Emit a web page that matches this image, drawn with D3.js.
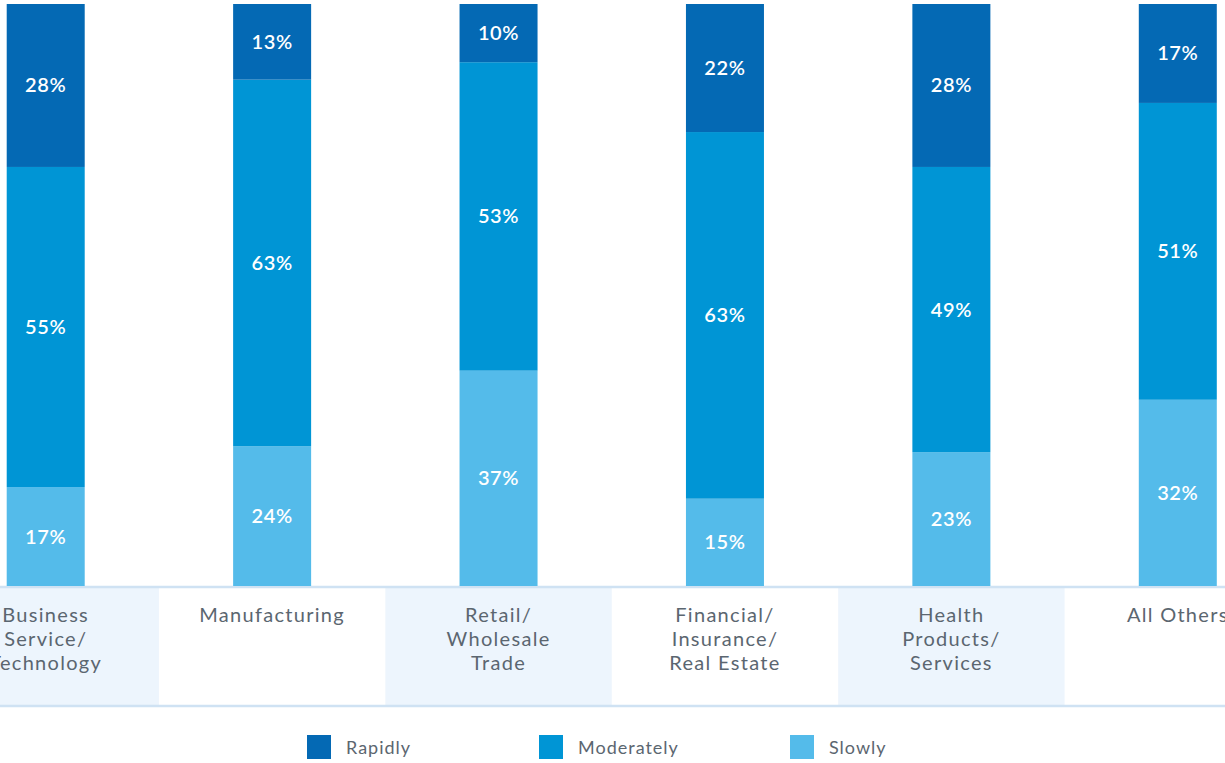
<!DOCTYPE html>
<html>
<head>
<meta charset="utf-8">
<script src="https://cdnjs.cloudflare.com/ajax/libs/d3/7.8.5/d3.min.js"></script>
<style>
  body { margin: 0; background: #fff; }
  svg { display: block; }
</style>
</head>
<body>
<svg id="vis" width="1225" height="763"></svg>
<script>
// data
var categories = ["Business Service/ Technology", "Manufacturing", "Retail/ Wholesale Trade",
    "Financial/ Insurance/ Real Estate", "Health Products/ Services", "All Others"];
var categoryLines = [["Business", "Service/", "Technology"], ["Manufacturing"], ["Retail/", "Wholesale", "Trade"],
    ["Financial/", "Insurance/", "Real Estate"], ["Health", "Products/", "Services"], ["All Others"]];
var seriesNames = ["Slowly", "Moderately", "Rapidly"];
var slowly = [17, 24, 37, 15, 23, 32];
var moderately = [55, 63, 53, 63, 49, 51];
var rapidly = [28, 13, 10, 22, 28, 17];
var legendOrder = ["Rapidly", "Moderately", "Slowly"];

var colors = {Rapidly: "#0469b4", Moderately: "#0095d5", Slowly: "#54bbea"};
var width = 1225, height = 763;
var BASE = 586, TOP = 4, BAR_W = 78;
var FONT = "Lato, 'Open Sans', sans-serif";

var display = d3.select("#vis");

// build rows for stacking
var rows = categories.map(function (c, i) {
    return {cat: c, Slowly: slowly[i], Moderately: moderately[i], Rapidly: rapidly[i]};
});

var xBand = d3.scaleBand()
    .domain(categories)
    .range([-67.5, 1291])
    .padding(0);

var y = d3.scaleLinear()
    .domain([0, 100])
    .range([BASE, TOP]);

// shaded label bands
display.append("g")
    .selectAll("rect")
    .data(categories.filter(function (d, i) { return i % 2 === 0; }))
    .enter()
    .append("rect")
    .attr("x", function (d) { return xBand(d); })
    .attr("y", BASE + 2)
    .attr("width", xBand.bandwidth())
    .attr("height", 117)
    .attr("fill", "#edf5fd");

// rule lines
display.append("line")
    .attr("x1", 0).attr("x2", width)
    .attr("y1", BASE + 1).attr("y2", BASE + 1)
    .attr("stroke", "#cfe2f3").attr("stroke-width", 2.5);
display.append("line")
    .attr("x1", 0).attr("x2", width)
    .attr("y1", 706).attr("y2", 706)
    .attr("stroke", "#cfe2f3").attr("stroke-width", 2.5);

var stacked = d3.stack().keys(seriesNames)(rows);

var barX = function (d) { return xBand(d.data.cat) + (xBand.bandwidth() - BAR_W) / 2; };

var groups = display.selectAll("g.series")
    .data(stacked)
    .enter()
    .append("g")
    .attr("class", "series")
    .attr("fill", function (d) { return colors[d.key]; });

groups.selectAll("rect")
    .data(function (d) { return d; })
    .enter()
    .append("rect")
    .attr("x", barX)
    .attr("y", function (d) { return y(d[1]); })
    .attr("width", BAR_W)
    .attr("height", function (d) { return y(d[0]) - y(d[1]); });

// value labels
groups.selectAll("text")
    .data(function (d) { return d; })
    .enter()
    .append("text")
    .attr("x", function (d) { return xBand(d.data.cat) + xBand.bandwidth() / 2; })
    .attr("y", function (d) { return (y(d[0]) + y(d[1])) / 2; })
    .attr("dy", "0.35em")
    .attr("text-anchor", "middle")
    .attr("fill", "#fff")
    .style("font-family", FONT)
    .style("font-size", "20px")
    .style("font-weight", "600")
    .style("letter-spacing", "0.6px")
    .text(function (d) { return (d[1] - d[0]) + "%"; });

// category labels, one text per line
display.append("g")
    .selectAll("text")
    .data(categories.flatMap(function (c, i) {
        return categoryLines[i].map(function (t, j) { return {t: t, c: c, line: j}; });
    }))
    .enter()
    .append("text")
    .attr("text-anchor", "middle")
    .attr("fill", "#5b6670")
    .style("font-family", FONT)
    .style("font-size", "20px")
    .style("letter-spacing", "1.3px")
    .attr("x", function (d) { return xBand(d.c) + xBand.bandwidth() / 2; })
    .attr("y", function (d) { return 622 + d.line * 24; })
    .text(function (d) { return d.t; });

// legend
var legendX = d3.scaleOrdinal()
    .domain(legendOrder)
    .range([307, 539, 790]);

var legend = display.selectAll(".legend")
    .data(legendOrder)
    .enter()
    .append("g")
    .attr("class", "legend")
    .attr("transform", function (d) { return "translate(" + legendX(d) + ",735)"; });

legend.append("rect")
    .attr("width", 24)
    .attr("height", 24)
    .attr("fill", function (d) { return colors[d]; });

legend.append("text")
    .attr("x", 39)
    .attr("y", 19)
    .attr("fill", "#5b6670")
    .style("font-family", FONT)
    .style("font-size", "18px")
    .style("letter-spacing", "1px")
    .text(function (d) { return d; });
</script>
</body>
</html>
